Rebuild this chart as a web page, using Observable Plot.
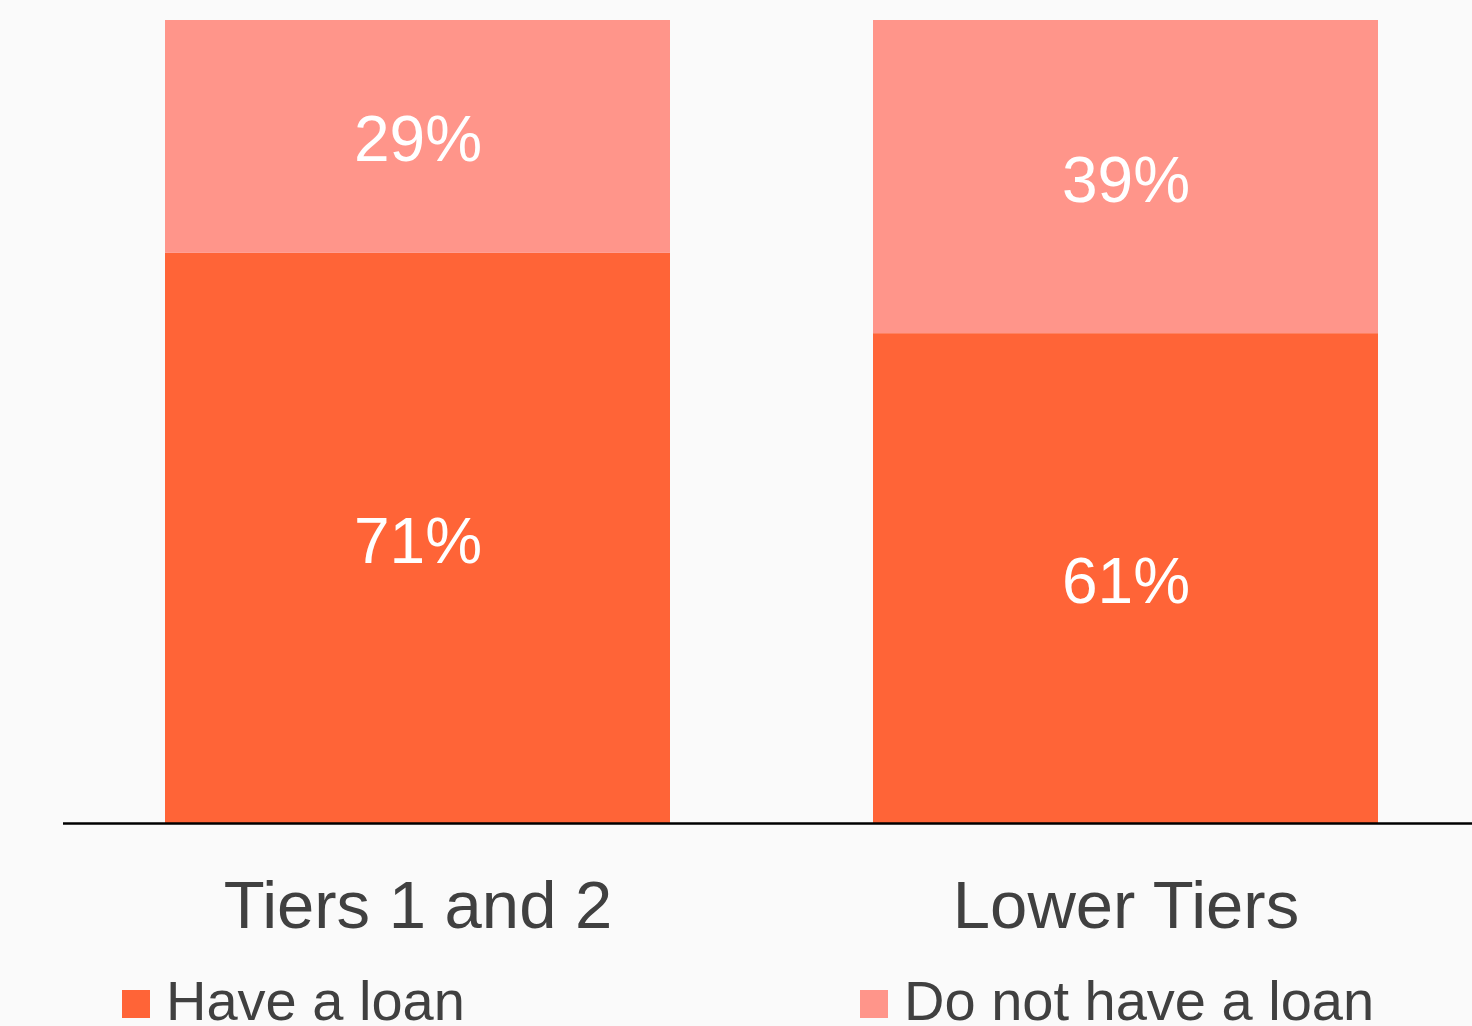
<!DOCTYPE html>
<html>
<head>
<meta charset="utf-8">
<script src="https://cdn.jsdelivr.net/npm/d3@7"></script>
<script src="https://cdn.jsdelivr.net/npm/@observablehq/plot@0.6"></script>
<style>
  html, body { margin: 0; padding: 0; background: #fafafa; overflow: hidden; }
  #wrap { position: relative; width: 1472px; height: 1026px; background: #fafafa; font-family: "Liberation Sans", Arial, sans-serif; overflow: hidden; }
  #legend { position: absolute; left: 0; top: 962px; width: 1472px; height: 76px; }
  .item { position: absolute; top: 0; display: flex; align-items: center; height: 76px; color: #404040; font-size: 56px; white-space: nowrap; }
  .sw { width: 28px; height: 28px; margin-right: 16px; margin-top: 8px; }
</style>
</head>
<body>
<div id="wrap"><div id="chart"></div><div id="legend"></div></div>
<script>
const tiers = ["Tiers 1 and 2", "Lower Tiers"];
const statuses = ["Have a loan", "Do not have a loan"];
const haveLoan = [71, 61];
const noLoan = [29, 39];
const colors = ["#ff6437", "#ff958a"];

const data = [];
tiers.forEach((t, i) => {
  data.push({tier: t, status: statuses[0], value: haveLoan[i]});
  data.push({tier: t, status: statuses[1], value: noLoan[i]});
});

const chart = Plot.plot({
  width: 1472,
  height: 950,
  marginLeft: 63,
  marginRight: 0,
  marginTop: 20,
  marginBottom: 127,
  style: {background: "#fafafa", fontFamily: "'Liberation Sans', Arial, sans-serif"},
  x: {domain: tiers, range: [63, 1479], paddingInner: 0.287, paddingOuter: 0.1427, label: null},
  y: {domain: [0, 100], axis: null},
  color: {domain: statuses, range: colors},
  marks: [
    Plot.barY(data, {x: "tier", y: "value", fill: "status", z: "status", order: statuses}),
    Plot.text(data, Plot.stackY({x: "tier", y: "value", z: "status", order: statuses, text: d => d.value + "%", fill: "white", fontSize: 64, dy: 4})),
    Plot.ruleY([0], {stroke: "#000", strokeWidth: 2.5}),
    Plot.axisX({tickSize: 0, tickPadding: 57, fontSize: 67, color: "#404040", label: null})
  ]
});
document.getElementById("chart").appendChild(chart);

const legend = document.getElementById("legend");
const lefts = [122, 860];
statuses.forEach((s, i) => {
  const it = document.createElement("div");
  it.className = "item";
  it.style.left = lefts[i] + "px";
  const sw = document.createElement("span");
  sw.className = "sw";
  sw.style.background = colors[i];
  const tx = document.createElement("span");
  tx.textContent = s;
  it.appendChild(sw); it.appendChild(tx);
  legend.appendChild(it);
});
</script>
</body>
</html>
